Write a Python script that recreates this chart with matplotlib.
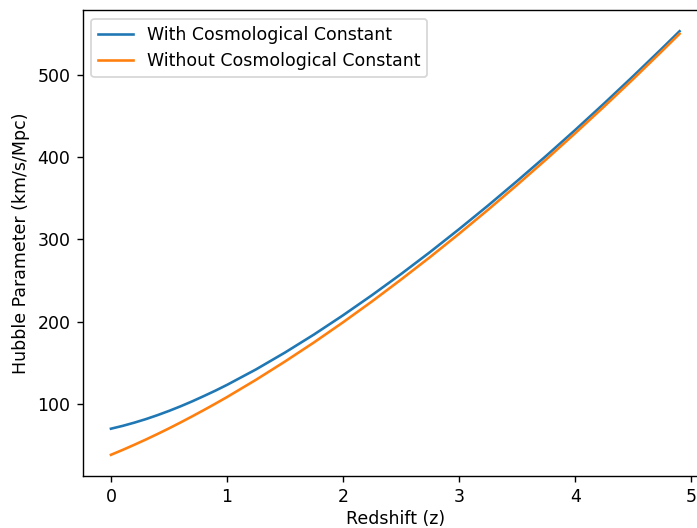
import numpy as np
import matplotlib
matplotlib.use("Agg")
import matplotlib.pyplot as plt

# redshift samples and values
redshift = [0.0, 0.1, 0.2, 0.3, 0.4, 0.5, 0.6, 0.7, 0.8, 0.9, 1.0,
            1.25, 1.5, 1.75, 2.0, 2.25, 2.5, 2.75, 3.0, 3.25, 3.5,
            3.75, 4.0, 4.25, 4.5, 4.75, 4.9]
h_with_lambda = [70.0, 73.4, 77.3, 81.6, 86.4, 91.6, 97.2, 103.2, 109.6,
                 116.2, 123.2, 142.0, 162.5, 184.4, 207.7, 232.2, 257.8,
                 284.5, 312.3, 341.0, 370.7, 401.2, 432.6, 464.9, 498.0,
                 531.9, 552.6]
h_without_lambda = [38.3, 44.2, 50.4, 56.8, 63.5, 70.4, 77.6, 85.0, 92.6,
                    100.4, 108.4, 129.4, 151.6, 174.8, 199.2, 224.6, 251.1,
                    278.4, 306.7, 335.9, 366.0, 396.9, 428.7, 461.2, 494.5,
                    528.7, 549.5]

dpi = 125
fig = plt.figure(figsize=(697 / dpi, 528 / dpi), dpi=dpi)
# right spine falls just outside the picture, as in the reference
ax = fig.add_axes([0.1184, 0.0985, 1.0158 - 0.1184, 0.981 - 0.0985])

ax.plot(redshift, h_with_lambda, label='With Cosmological Constant')
ax.plot(redshift, h_without_lambda, label='Without Cosmological Constant')
ax.set_xlabel('Redshift (z)', labelpad=2)
ax.set_ylabel('Hubble Parameter (km/s/Mpc)')
ax.legend(loc='upper left')

plt.savefig('out.png', dpi=dpi)
